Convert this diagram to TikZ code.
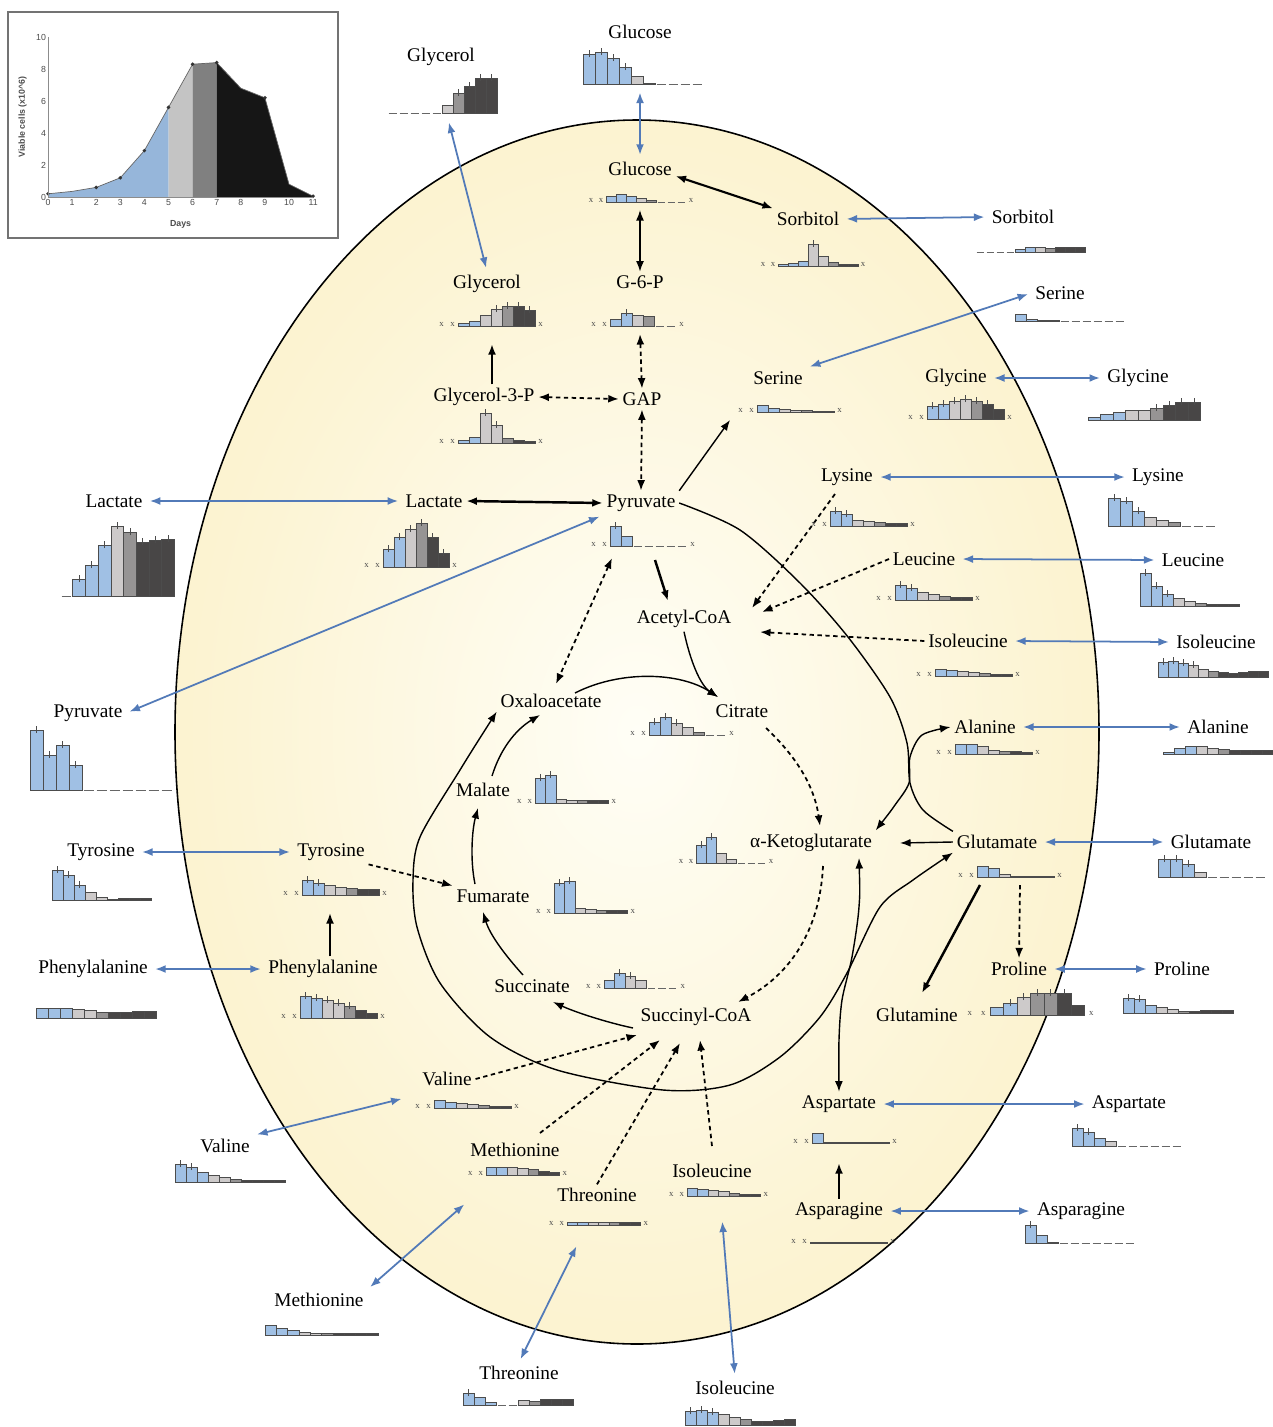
\documentclass[tikz,border=0pt]{standalone}
\usepackage{fontspec}
\setmainfont{Liberation Serif}
\newfontfamily\chartfont{Liberation Sans}
\usetikzlibrary{arrows.meta}

\definecolor{cb}{RGB}{160,192,228}
\definecolor{cl}{RGB}{205,202,202}
\definecolor{cm}{RGB}{150,148,148}
\definecolor{cd}{RGB}{72,70,70}
\definecolor{trblue}{RGB}{82,122,184}
\definecolor{cellin}{RGB}{255,254,246}
\definecolor{cellmid}{RGB}{252,244,212}
\definecolor{cellout}{RGB}{248,231,178}
\definecolor{gcblue}{RGB}{150,182,218}
\definecolor{gclight}{RGB}{196,196,196}
\definecolor{gcmid}{RGB}{128,128,128}
\definecolor{gcdark}{RGB}{22,22,22}

\pgfdeclareradialshading{cellshade}{\pgfpoint{0bp}{0bp}}{%
  color(0bp)=(cellin); color(22bp)=(cellmid); color(50bp)=(cellout); color(100bp)=(cellout)}

% bar chart of one metabolite: x, baseline y, bar width, list height/colour
% colour letters: b l m d = bars, x = missing mark, z = dash
\newcommand{\conc}[4]{%
  \foreach \hh/\cc [count=\i from 0] in {#4}{%
    \pgfmathsetmacro{\xl}{#1+\i*#3}%
    \if x\cc
      \node[xmark] at (\xl+#3/2,#2-2) {x};
    \else\if z\cc
      \draw[zline] (\xl+1.5,#2) -- (\xl+#3-1.5,#2);
    \else
      \draw[bar,fill=c\cc] (\xl,#2) rectangle (\xl+#3,#2-\hh);
      \ifdim\hh pt>11pt \draw[ebar] (\xl+#3/2,#2-\hh+3) -- (\xl+#3/2,#2-\hh-4); \fi
    \fi\fi
  }%
}

\begin{document}
\begin{tikzpicture}[
    x = 0.02cm, y = -0.02cm,
    >={Latex[length=6pt,width=4.5pt]},
    met/.style  = {font=\fontsize{11}{13}\selectfont, inner sep=2pt},
    tr/.style   = {<->, draw=trblue, line width=1pt, shorten <=2pt, shorten >=2pt},
    rx/.style   = {->, line width=0.8pt},
    rxt/.style  = {->, line width=1.4pt},
    rxd/.style  = {->, line width=1pt, dash pattern=on 2.5pt off 2pt},
    bar/.style  = {draw=black!70, line width=0.3pt},
    ebar/.style = {black!70, line width=0.3pt},
    zline/.style= {black!60, line width=0.4pt},
    xmark/.style= {font=\fontsize{5}{5}\selectfont, inner sep=0pt, text=black!70},
    axlab/.style= {font=\chartfont\fontsize{5}{6}\selectfont, inner sep=1pt, text=black!70},
    dot/.style  = {circle, fill=black!80, inner sep=0pt, minimum size=2.2pt}
  ]
\useasboundingbox (0,0) rectangle (1273,1427);
\fill[white] (0,0) rectangle (1273,1427);

% cell
\shade[shading=cellshade, draw=black, line width=0.9pt]
  (637,732) ellipse [x radius=462, y radius=612];

% growth curve inset
\draw[black!55, line width=1.4pt, fill=white] (8,12) rectangle (338,238);
\begin{scope}[shift={(48,197)}, xscale=24.1, yscale=-16]
  \fill[gcblue] (0,0) -- (0,0.2) -- (1,0.35) -- (2,0.6) -- (3,1.2) -- (4,2.9) -- (5,5.6) -- (5,0) -- cycle;
  \fill[gclight] (5,0) -- (5,5.6) -- (6,8.3) -- (6,0) -- cycle;
  \fill[gcmid] (6,0) -- (6,8.3) -- (7,8.4) -- (7,0) -- cycle;
  \fill[gcdark] (7,0) -- (7,8.4) -- (8,6.8) -- (9,6.2) -- (9.5,3.5) -- (10,0.8) -- (11,0.05) -- (11,0) -- cycle;
  \draw[black!60, line width=0.4pt] (0,0.2) -- (1,0.35) -- (2,0.6) -- (3,1.2) -- (4,2.9) -- (5,5.6) -- (6,8.3) -- (7,8.4) -- (8,6.8) -- (9,6.2) -- (9.5,3.5) -- (10,0.8) -- (11,0.05);
  \foreach \d/\v in {0/0.2,2/0.6,3/1.2,4/2.9,5/5.6,6/8.3,7/8.4,9/6.2,11/0.05}
    \node[dot] at (\d,\v) {};
  \draw[black!45, line width=0.3pt] (0,10) -- (0,0) -- (11,0);
  \foreach \v in {0,2,...,10}
    \node[axlab, left] at (0,\v) {\v};
  \foreach \d in {0,...,11}
    \node[axlab, below] at (\d,0) {\d};
  \node[axlab, font=\chartfont\bfseries\fontsize{5}{6}\selectfont] at (5.5,-1.7) {Days};
  \node[axlab, font=\chartfont\bfseries\fontsize{5}{6}\selectfont, rotate=90] at (-1.05,5) {Viable cells (x10\textasciicircum 6)};
\end{scope}

% metabolites
\node[met] (glyE)   at (441,57)   {Glycerol};
\node[met] (gluE)   at (640,32)   {Glucose};
\node[met] (gluI)   at (640,169)  {Glucose};
\node[met] (sorI)   at (808,219)  {Sorbitol};
\node[met] (sorE)   at (1023,217) {Sorbitol};
\node[met] (g6p)    at (640,282)  {G-6-P};
\node[met] (glyI)   at (487,284)  {Glycerol};
\node[met] (g3p)    at (484,397)  {Glycerol-3-P};
\node[met] (gap)    at (642,399)  {GAP};
\node[met] (serI)   at (778,378)  {Serine};
\node[met] (serE)   at (1060,293) {Serine};
\node[met] (glyciI) at (956,378)  {Glycine};
\node[met] (glyciE) at (1138,378) {Glycine};
\node[met] (lacE)   at (114,501)  {Lactate};
\node[met] (lacI)   at (434,501)  {Lactate};
\node[met] (pyrI)   at (641,503)  {Pyruvate};
\node[met] (pyrE)   at (88,713)   {Pyruvate};
\node[met] (acoa)   at (684,619)  {Acetyl-CoA};
\node[met] (lysI)   at (847,477)  {Lysine};
\node[met] (lysE)   at (1158,477) {Lysine};
\node[met] (leuI)   at (924,559)  {Leucine};
\node[met] (leuE)   at (1193,560) {Leucine};
\node[met] (ileI)   at (968,641)  {Isoleucine};
\node[met] (ileE)   at (1216,642) {Isoleucine};
\node[met] (alaI)   at (985,727)  {Alanine};
\node[met] (alaE)   at (1218,727) {Alanine};
\node[met] (cit)    at (742,711)  {Citrate};
\node[met] (oaa)    at (551,701)  {Oxaloacetate};
\node[met] (mal)    at (483,790)  {Malate};
\node[met] (akg)    at (811,843)  {α-Ketoglutarate};
\node[met] (gltI)   at (997,842)  {Glutamate};
\node[met] (gltE)   at (1211,842) {Glutamate};
\node[met] (tyrE)   at (101,852)  {Tyrosine};
\node[met] (tyrI)   at (331,852)  {Tyrosine};
\node[met] (fum)    at (493,896)  {Fumarate};
\node[met] (pheE)   at (93,969)   {Phenylalanine};
\node[met] (pheI)   at (323,969)  {Phenylalanine};
\node[met] (proI)   at (1019,969) {Proline};
\node[met] (proE)   at (1182,969) {Proline};
\node[met] (gln)    at (917,1015) {Glutamine};
\node[met] (suc)    at (532,986)  {Succinate};
\node[met] (sca)    at (696,1017) {Succinyl-CoA};
\node[met] (valI)   at (447,1079) {Valine};
\node[met] (valE)   at (225,1146) {Valine};
\node[met] (metI)   at (515,1150) {Methionine};
\node[met] (metE)   at (319,1300) {Methionine};
\node[met] (thrI)   at (597,1195) {Threonine};
\node[met] (thrE)   at (519,1373) {Threonine};
\node[met] (ileB)   at (712,1171) {Isoleucine};
\node[met] (ileBE)  at (735,1388) {Isoleucine};
\node[met] (aspI)   at (839,1104) {Aspartate};
\node[met] (aspE)   at (1129,1104) {Aspartate};
\node[met] (asnI)   at (839,1211) {Asparagine};
\node[met] (asnE)   at (1081,1211) {Asparagine};

% free ends of connectors
\coordinate (glyEb) at (448,119);
\coordinate (gluEb) at (640,89);
\coordinate (gluIb) at (640,210);
\coordinate (g6pb)  at (640,334);
\coordinate (glyIb) at (492,344);
\coordinate (serIa) at (730,420);
\coordinate (pyrIb) at (655,560);
\coordinate (pyrIc) at (612,558);
\coordinate (acoaN) at (668,601);
\coordinate (acoaE) at (760,632);
\coordinate (acoaF) at (762,612);
\coordinate (acoaG) at (752,608);
\coordinate (lysIs) at (835,494);
\coordinate (oaaN)  at (556,684);
\coordinate (oaaE)  at (575,693);
\coordinate (citN)  at (718,697);
\coordinate (citS)  at (766,728);
\coordinate (akgN)  at (820,826);
\coordinate (akgS)  at (823,866);
\coordinate (akgE)  at (900,843);
\coordinate (akgB)  at (859,858);
\coordinate (scaA)  at (637,1035);
\coordinate (scaB)  at (660,1040);
\coordinate (scaC)  at (680,1043);
\coordinate (scaD)  at (700,1040);
\coordinate (scaW)  at (633,1028);
\coordinate (scaN)  at (738,1002);
\coordinate (sucS)  at (553,1002);
\coordinate (sucN)  at (523,975);
\coordinate (fumS)  at (483,912);
\coordinate (fumN)  at (475,884);
\coordinate (malS)  at (478,808);
\coordinate (malN)  at (492,776);
\coordinate (oaaS)  at (540,715);
\coordinate (gltIs) at (980,885);
\coordinate (gltIt) at (1020,885);
\coordinate (glnN)  at (922,993);
\coordinate (aspIb) at (839,1163);
\coordinate (tyrIb) at (330,913);
\coordinate (metIn) at (540,1133);
\coordinate (ileBn) at (712,1146);
\coordinate (valIa) at (405,1098);
\coordinate (metIa) at (467,1202);
\coordinate (thrIa) at (578,1243);
\coordinate (ileBa) at (722,1218);

% transport across the membrane
\draw[tr] (glyEb) -- (glyI.north);
\draw[tr] (gluEb) -- (gluI.north);
\draw[tr] (sorI.east) -- (sorE.west);
\draw[tr] (serI.north east) -- (serE.west);
\draw[tr] (glyciI.east) -- (glyciE.west);
\draw[tr] (lacE.east) -- (lacI.west);
\draw[tr] (pyrI.south west) -- (pyrE.east);
\draw[tr] (lysI.east) -- (lysE.west);
\draw[tr] (leuI.east) -- (leuE.west);
\draw[tr] (ileI.east) -- (ileE.west);
\draw[tr] (alaI.east) -- (alaE.west);
\draw[tr] (gltI.east) -- (gltE.west);
\draw[tr] (proI.east) -- (proE.west);
\draw[tr] (tyrE.east) -- (tyrI.west);
\draw[tr] (pheE.east) -- (pheI.west);
\draw[tr] (aspI.east) -- (aspE.west);
\draw[tr] (asnI.east) -- (asnE.west);
\draw[tr] (valIa) -- (valE.north east);
\draw[tr] (metIa) -- (metE.north east);
\draw[tr] (thrIa) -- (thrE.north);
\draw[tr] (ileBa) -- (ileBE.north);

% glycolysis
\draw[rx, <->, line width=1.2pt] ([yshift=-4pt]gluI.east) -- (sorI.north west);
\draw[rx, <->] (gluIb) -- (g6p.north);
\draw[rxd, <->] (g6pb) -- (gap.north);
\draw[rxt] (g3p.north -| glyIb) -- (glyIb);
\draw[rxd, <->] (g3p.east) -- (gap.west);
\draw[rxd, <->] (gap.south) -- (pyrI.north);
\draw[rxt, <->] (lacI.east) -- (pyrI.west);
\draw[rx] (pyrI.north east) -- (serIa);
\draw[rxt] (pyrIb) -- (acoaN);
\draw[rxd, <->] (pyrIc) -- (oaaN);
\draw[line width=0.8pt] plot[smooth] coordinates {(pyrI.east) (740,530) (800,583) (848,637) (890,697) (907,743) (910,783) (923,810) (gltI.north west)};
\draw[rx, <->] plot[smooth] coordinates {(akg.north east) (895,805) (909,783) (910,757) (922,735) (alaI.west)};

% TCA cycle
\draw[rx] (acoa.south) .. controls (690,660) and (700,685) .. (citN);
\draw[rx] (oaaE) .. controls (620,670) and (680,672) .. (citN);
\draw[rxd] (citS) .. controls (800,760) and (815,790) .. (akgN);
\draw[rxd] (akgS) .. controls (820,930) and (790,975) .. (scaN);
\draw[rx] (scaW) .. controls (605,1022) and (575,1012) .. (sucS);
\draw[rx] (sucN) .. controls (505,955) and (490,935) .. (fumS);
\draw[rx] (fumN) .. controls (470,860) and (472,830) .. (malS);
\draw[rx] (malN) .. controls (500,750) and (515,730) .. (oaaS);
\draw[rx, <->] plot[smooth] coordinates {(oaa.south west) (460,770) (420,837) (413,880) (417,927) (440,983) (490,1037) (557,1070) (663,1090) (730,1085) (780,1057) (820,1017) (847,973) (880,907) (913,880) (gltI.south west)};
\draw[rx, <->] plot[smooth] coordinates {(akgB) (859,907) (852,957) (842,1000) (839,1040) (aspI.north)};

% amino acids
\draw[rx] (gltI.west) -- (akgE);
\draw[rxt] (gltIs) -- (glnN);
\draw[rxd] (gltIt) -- (proI.north);
\draw[rxt] (asnI.north) -- (aspIb);
\draw[rxd] (lysIs) -- (acoaG);
\draw[rxd] (leuI.west) -- (acoaF);
\draw[rxd] (ileI.west) -- (acoaE);
\draw[rxd] (tyrI.south east) -- (fum.north west);
\draw[rx, line width=1.1pt] (pheI.north -| tyrIb) -- (tyrIb);
\draw[rxd] (valI.east) -- (scaA);
\draw[rxd] (metIn) -- (scaB);
\draw[rxd] (thrI.north) -- (scaC);
\draw[rxd] (ileBn) -- (scaD);

% concentration profiles
\conc{387}{113}{11}{0/z,0/z,0/z,0/z,0/z,8/l,20/m,27/d,35/d,35/d}
\conc{583}{84}{12}{30/b,32/b,26/b,17/b,8/l,1/d,0/z,0/z,0/z,0/z}
\conc{586}{202}{10}{0/x,0/x,6/b,8/b,6/b,4/l,2/m,0/z,0/z,0/z,0/x}
\conc{758}{266}{10}{0/x,0/x,2/b,3/b,5/b,22/l,10/l,4/m,2/d,2/d,0/x}
\conc{975}{252}{10}{0/z,0/z,0/z,0/z,3/b,5/b,5/l,4/m,5/d,5/d,5/d}
\conc{588}{326}{11}{0/x,0/x,7/b,13/b,11/l,10/m,0/z,0/z,0/x}
\conc{436}{326}{11}{0/x,0/x,3/b,5/b,11/l,17/l,20/m,20/d,16/d,0/x}
\conc{436}{443}{11}{0/x,0/x,3/b,6/b,30/l,18/l,5/m,3/d,2/d,0/x}
\conc{735}{412}{11}{0/x,0/x,7/b,4/b,3/l,2/l,2/m,1/d,1/d,0/x}
\conc{1015}{321}{11}{7/b,2/b,1/b,1/l,0/z,0/z,0/z,0/z,0/z,0/z}
\conc{905}{419}{11}{0/x,0/x,13/b,15/b,18/l,20/l,18/m,15/d,10/d,0/x}
\conc{1088}{420}{12.5}{3/b,6/b,8/b,10/l,10/l,12/m,15/d,18/d,18/d}
\conc{60}{596}{12.7}{0/z,17/b,31/b,51/b,70/l,64/m,54/d,56/d,57/d}
\conc{361}{567}{11}{0/x,0/x,18/b,30/b,38/l,44/m,30/d,14/d,0/x}
\conc{588}{546}{11}{0/x,0/x,20/b,10/b,0/z,0/z,0/z,0/z,0/z,0/x}
\conc{30}{790}{13}{60/b,35/b,45/b,25/b,0/z,0/z,0/z,0/z,0/z,0/z,0/z}
\conc{808}{526}{11}{0/x,0/x,15/b,12/b,6/l,5/l,4/m,3/d,3/d,0/x}
\conc{1108}{526}{12}{28/b,25/b,15/b,9/l,6/l,4/m,0/z,0/z,0/z}
\conc{873}{600}{11}{0/x,0/x,15/b,12/b,8/l,6/l,4/m,3/d,3/d,0/x}
\conc{1140}{606}{11}{33/b,20/b,12/b,8/l,5/l,3/m,2/d,2/d,2/d}
\conc{913}{676}{11}{0/x,0/x,7/b,6/b,5/l,4/l,3/m,2/d,2/d,0/x}
\conc{1158}{677}{10}{15/b,16/b,14/b,12/l,8/l,6/m,5/d,4/d,5/d,6/d,6/d}
\conc{933}{754}{11}{0/x,0/x,10/b,10/b,8/l,4/l,3/m,3/d,2/d,0/x}
\conc{1163}{754}{11}{2/b,6/b,8/b,8/l,6/l,5/m,4/d,4/d,4/d,4/d}
\conc{627}{735}{11}{0/x,0/x,13/b,18/b,12/l,8/l,3/m,0/z,0/z,0/x}
\conc{514}{803}{10.5}{0/x,0/x,25/b,28/b,4/l,3/l,3/m,3/d,3/d,0/x}
\conc{676}{863}{10}{0/x,0/x,18/b,26/b,10/l,4/l,0/z,0/z,0/z,0/x}
\conc{955}{877}{11}{0/x,0/x,11/b,9/b,3/l,1/l,1/m,1/d,1/d,0/x}
\conc{1158}{877}{12}{18/b,18/b,13/b,5/l,0/z,0/z,0/z,0/z,0/z}
\conc{52}{900}{11}{30/b,25/b,15/b,8/l,3/l,1/m,2/d,2/d,2/d}
\conc{280}{895}{11}{0/x,0/x,15/b,12/b,10/l,8/l,7/m,6/d,6/d,0/x}
\conc{533}{913}{10.5}{0/x,0/x,30/b,32/b,5/l,4/l,3/m,3/d,3/d,0/x}
\conc{36}{1018}{12}{10/b,10/b,10/b,9/l,8/l,6/m,6/d,6/d,7/d,7/d}
\conc{278}{1018}{11}{0/x,0/x,22/b,20/b,18/l,15/l,12/m,8/d,5/d,0/x}
\conc{963}{1015}{13.5}{0/x,0/x,8/b,12/b,18/l,22/m,22/m,22/d,10/d,0/x}
\conc{1123}{1013}{11}{15/b,14/b,8/b,6/l,4/l,2/m,2/d,3/d,3/d,3/d}
\conc{583}{988}{10.5}{0/x,0/x,8/b,15/b,12/l,8/l,0/z,0/z,0/z,0/x}
\conc{412}{1108}{11}{0/x,0/x,8/b,6/b,5/l,4/l,3/m,2/d,2/d,0/x}
\conc{175}{1182}{11}{18/b,15/b,10/b,7/l,5/l,3/m,2/d,2/d,2/d,2/d}
\conc{465}{1175}{10.5}{0/x,0/x,8/b,8/b,8/l,7/l,6/m,4/d,3/d,0/x}
\conc{265}{1335}{11.3}{10/b,7/b,5/b,3/l,2/l,2/m,2/d,2/d,2/d,2/d}
\conc{546}{1225}{10.5}{0/x,0/x,3/b,3/b,3/l,3/l,3/m,3/d,3/d,0/x}
\conc{463}{1405}{11}{12/b,8/b,3/b,0/z,0/z,5/l,4/m,6/d,6/d,6/d}
\conc{666}{1196}{10.5}{0/x,0/x,8/b,7/b,6/l,5/l,3/m,2/d,2/d,0/x}
\conc{685}{1425}{11}{14/b,15/b,13/b,11/l,8/l,6/m,4/d,4/d,5/d,6/d}
\conc{790}{1143}{11}{0/x,0/x,10/b,1/b,1/l,1/l,1/m,1/d,1/d,0/x}
\conc{1072}{1146}{11}{18/b,14/b,8/b,5/l,0/z,0/z,0/z,0/z,0/z,0/z}
\conc{788}{1243}{11}{0/x,0/x,1/b,1/b,1/l,1/l,1/m,1/d,1/d,0/x}
\conc{1025}{1243}{11}{18/b,8/b,1/b,0/z,0/z,0/z,0/z,0/z,0/z,0/z}
\end{tikzpicture}
\end{document}
